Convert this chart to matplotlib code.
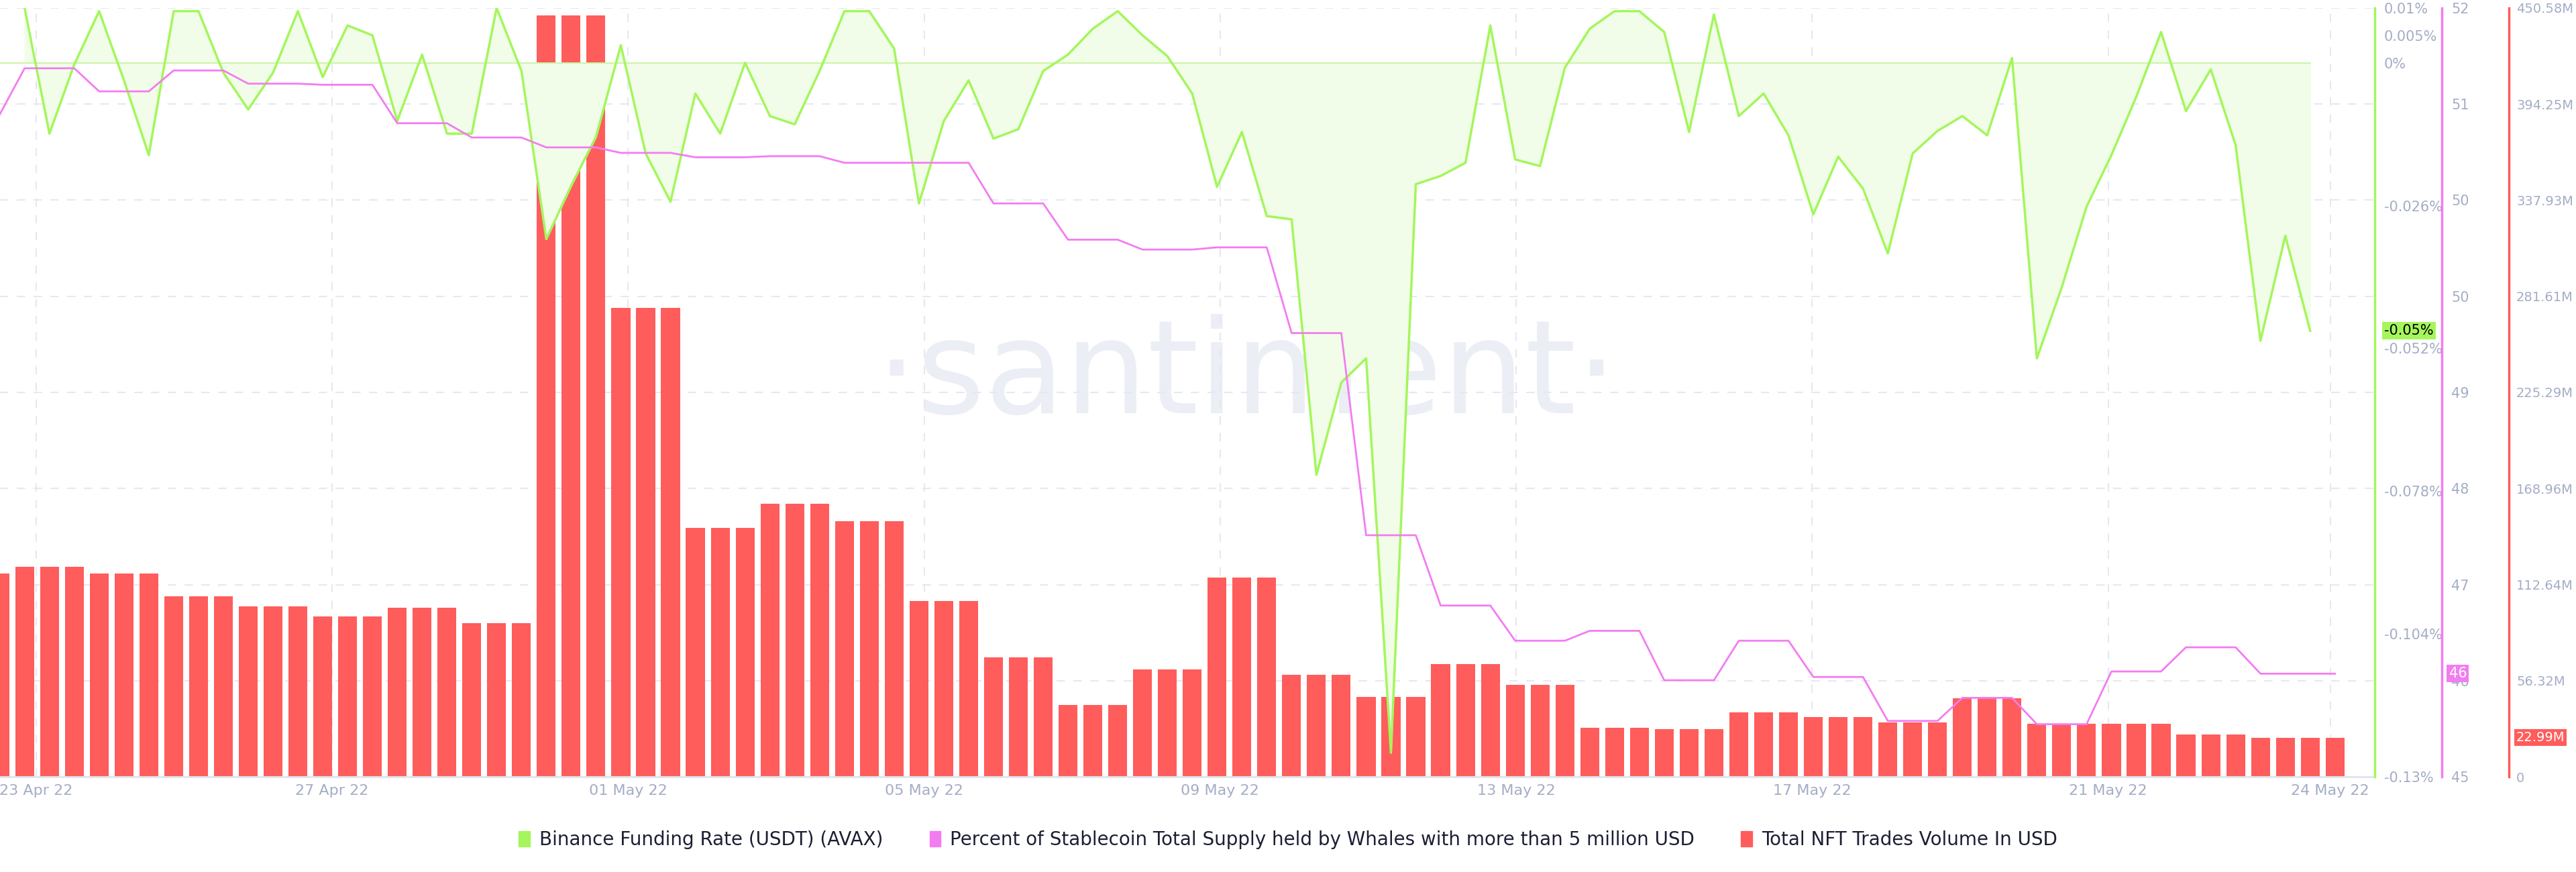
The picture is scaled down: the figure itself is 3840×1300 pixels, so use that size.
import numpy as np
import matplotlib.pyplot as plt
from matplotlib.patches import Patch

# ---------- data (8-hour periods, index 0 = 23 Apr 22 00:00) ----------
day_labels = ["23 Apr 22", "27 Apr 22", "01 May 22", "05 May 22", "09 May 22",
              "13 May 22", "17 May 22", "21 May 22", "24 May 22"]
day_offsets = [0, 4, 8, 12, 16, 20, 24, 28, 31]

# funding rate (%), one value per 8h
funding = [0.0100, -0.0129, -0.0003, 0.0094, -0.0032, -0.0168, 0.0094, 0.0094, -0.0018, -0.0085,
           -0.0018, 0.0094, -0.0026, 0.0068, 0.0050, -0.0106, 0.0015, -0.0129, -0.0129, 0.0100,
           -0.0015, -0.0321, -0.0224, -0.0135, 0.0032, -0.0165, -0.0253, -0.0056, -0.0129, 0.0000,
           -0.0097, -0.0112, -0.0015, 0.0094, 0.0094, 0.0026, -0.0256, -0.0106, -0.0032, -0.0138,
           -0.0121, -0.0015, 0.0015, 0.0062, 0.0094, 0.0050, 0.0012, -0.0056, -0.0226, -0.0126,
           -0.0279, -0.0285, -0.0750, -0.0582, -0.0538, -0.1256, -0.0221, -0.0206, -0.0182, 0.0068,
           -0.0176, -0.0188, -0.0009, 0.0062, 0.0094, 0.0094, 0.0056, -0.0126, 0.0088, -0.0097,
           -0.0056, -0.0132, -0.0276, -0.0171, -0.0229, -0.0347, -0.0165, -0.0124, -0.0097, -0.0132,
           0.0009, -0.0538, -0.0409, -0.0262, -0.0168, -0.0062, 0.0056, -0.0088, -0.0012, -0.0150,
           -0.0506, -0.0315, -0.0488]

# whale stablecoin share (%), daily: 22 Apr, 23 Apr .. 23 May, 24 May
whales_daily = [51.03, 51.45, 51.24, 51.43, 51.31, 51.30, 50.95, 50.82, 50.73, 50.68,
                50.64, 50.65, 50.59, 50.59, 50.22, 49.89, 49.80, 49.82, 49.04, 47.20,
                46.56, 46.24, 46.33, 45.88, 46.24, 45.91, 45.51, 45.72, 45.48, 45.96,
                46.18, 45.94, 45.94]

# NFT trade volume (M USD), daily: 22 Apr, 23 Apr .. 23 May, 24 May
nft_daily = [119, 123, 119, 106, 100, 94, 99, 90, 446, 275,
             146, 160, 150, 103, 70, 42, 63, 117, 60, 47,
             66, 54, 29, 28, 38, 35, 32, 46, 31, 31,
             25, 22.99, 22.99]

# expand daily series into 8h periods: index -1 (22 Apr), 0..92 (3 per day), 93 (24 May)
def expand(daily):
    return [daily[0]] + [v for v in daily[1:-1] for _ in range(3)] + [daily[-1]]

idx = np.arange(-1, 94)
whales = expand(whales_daily)
nft = expand(nft_daily)

GREEN = "#a4f65c"
PINK = "#f37cf1"
RED = "#ff5c5c"
TXT = "#a4adc6"

fig = plt.figure(figsize=(38.4, 13), dpi=100)
ax = fig.add_axes([0.0, 0.109, 3540 / 3840, 0.882])
ax_g = ax.twinx()
ax_p = ax.twinx()
ax.set_zorder(1); ax_g.set_zorder(2); ax_p.set_zorder(3)
ax_g.patch.set_visible(False); ax_p.patch.set_visible(False)

# watermark
ax.text(0.525, 0.52, "·santiment·", transform=ax.transAxes, fontsize=140, color="#eceef5",
        ha="center", va="center", zorder=0)

# bars (red axis)
ax.bar(idx, nft, width=0.76, color=RED, zorder=2)
red_ticks = np.linspace(0, 450.58, 9)
ax.set_ylim(0, 450.58)
ax.set_yticks(red_ticks)
ax.set_yticklabels(["0", "56.32M", "112.64M", "168.96M", "225.29M", "281.61M",
                    "337.93M", "394.25M", "450.58M"])
ax.yaxis.tick_right()
ax.spines["right"].set_position(("axes", 1 + 200 / 3540))
ax.spines["right"].set_color(RED); ax.spines["right"].set_linewidth(2.5)

xpos = [(22 + 45.04 * d - 15) / 15.12 for d in day_offsets]
ax.set_xticks(xpos)
ax.set_xticklabels(day_labels)
ax.set_xlim(-0.99, 94.6)
ax.grid(True, color="#e6e8f0", ls=(0, (6, 6)), lw=1.5, zorder=0)
ax.set_axisbelow(True)

# funding rate (green axis)
fx = np.arange(len(funding))
ax_g.plot(fx, funding, color=GREEN, lw=2.5, zorder=3)
ax_g.fill_between(fx, funding, 0, color="#f1fde8", zorder=1)
ax_g.axhline(0, xmin=0, xmax=(fx[-1] + 0.99) / 95.59, color="#cdf5a8", lw=1.5)
ax_g.set_ylim(-0.13, 0.01)
g_ticks = [0.01, 0.005, 0, -0.026, -0.052, -0.078, -0.104, -0.13]
ax_g.set_yticks(g_ticks)
ax_g.set_yticklabels(["0.01%", "0.005%", "0%", "-0.026%", "-0.052%", "-0.078%", "-0.104%", "-0.13%"])
ax_g.spines["right"].set_color(GREEN); ax_g.spines["right"].set_linewidth(2.5)

# whales (pink axis)
ax_p.plot(idx, whales, color=PINK, lw=2)
ax_p.set_ylim(45, 52)
ax_p.set_yticks(np.linspace(45, 52, 9))
ax_p.set_yticklabels(["45", "46", "47", "48", "49", "50", "50", "51", "52"])
ax_p.spines["right"].set_position(("axes", 1 + 100 / 3540))
ax_p.spines["right"].set_color(PINK); ax_p.spines["right"].set_linewidth(2.5)

for a in (ax, ax_g, ax_p):
    for s in ("left", "top"):
        a.spines[s].set_visible(False)
    a.tick_params(axis="y", length=0, pad=10, labelsize=15, labelcolor=TXT)
ax.tick_params(axis="y", labelsize=14, pad=8)
for a in (ax_g, ax_p):
    a.spines["bottom"].set_visible(False)
ax.spines["bottom"].set_color("#e1e4ee"); ax.spines["bottom"].set_linewidth(2)
ax.tick_params(axis="x", length=0, pad=8, labelsize=16, labelcolor=TXT)

# last-value tags
box = dict(boxstyle="square,pad=0.15", ec="none")
ax_g.text(1.004, funding[-1], "-0.05%", transform=ax_g.get_yaxis_transform(), fontsize=15,
          va="center", ha="left", color="black", bbox=dict(box, fc=GREEN), zorder=5, clip_on=False)
ax_p.text(1 + 100 / 3540 + 0.003, whales[-1], "46", transform=ax_p.get_yaxis_transform(), fontsize=15,
          va="center", ha="left", color="white", bbox=dict(box, fc=PINK), clip_on=False)
ax.text(1 + 200 / 3540 + 0.003, nft[-1], "22.99M", transform=ax.get_yaxis_transform(), fontsize=14,
        va="center", ha="left", color="white", bbox=dict(box, fc=RED), clip_on=False)

handles = [Patch(color=GREEN), Patch(color=PINK), Patch(color=RED)]
labels = ["Binance Funding Rate (USDT) (AVAX)",
          "Percent of Stablecoin Total Supply held by Whales with more than 5 million USD",
          "Total NFT Trades Volume In USD"]
fig.legend(handles, labels, loc="center", bbox_to_anchor=(0.5, 0.037), ncol=3, frameon=False,
           fontsize=20, handlelength=0.6, handleheight=0.9, handletextpad=0.5, columnspacing=2.5,
           labelcolor="#1c1f33")

fig.savefig("out.png", dpi=100)
